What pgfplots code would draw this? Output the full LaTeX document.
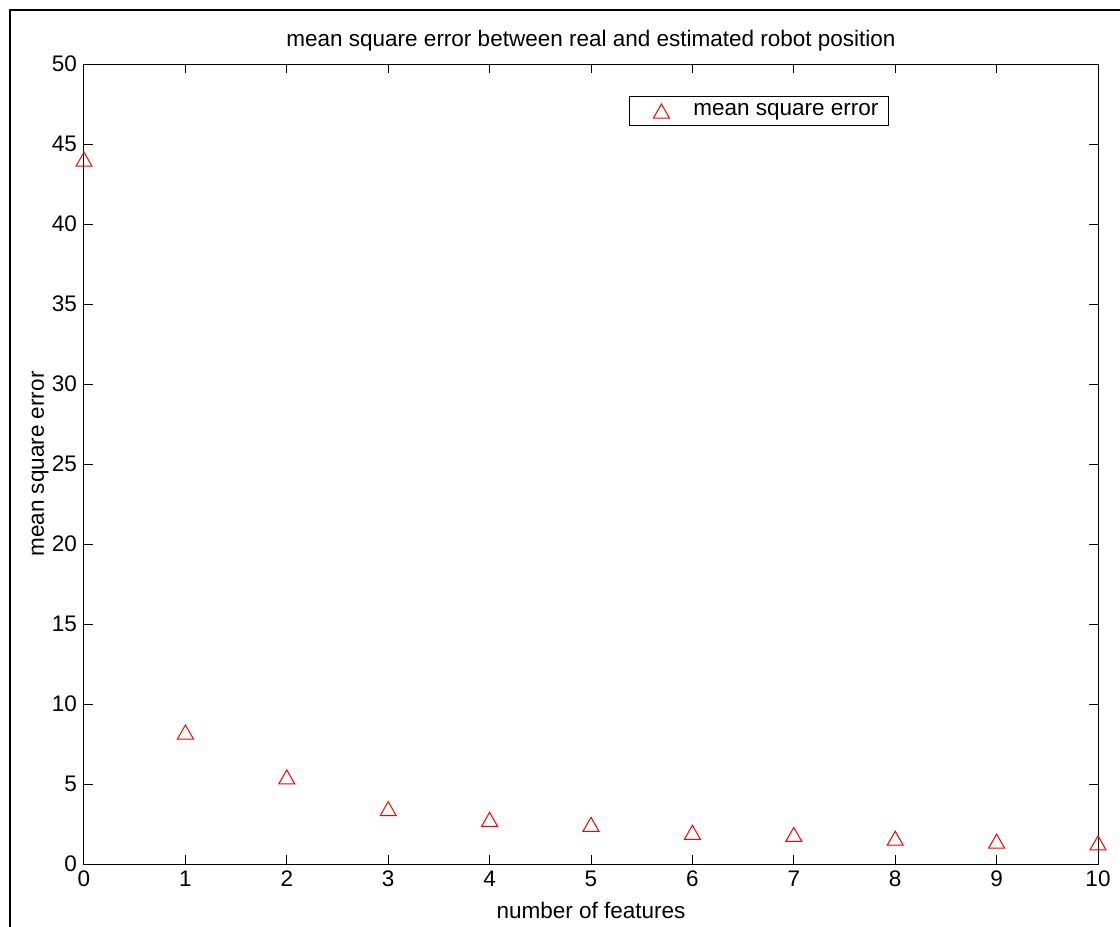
\documentclass[border=0pt]{standalone}
\usepackage{fontspec}
\setmainfont{Liberation Sans}
\usepackage{pgfplots}
\pgfplotsset{compat=1.18}

% triangle centred on its bounding box, like the MATLAB '^' marker
\pgfdeclareplotmark{mtri}{%
  \pgfpathmoveto{\pgfqpoint{0pt}{3.5pt}}%
  \pgfpathlineto{\pgfqpoint{-4pt}{-3.5pt}}%
  \pgfpathlineto{\pgfqpoint{4pt}{-3.5pt}}%
  \pgfpathclose\pgfusepathqstroke}

\newcommand{\fnt}{\fontsize{11.25}{13}\selectfont}

\begin{document}
\begin{tikzpicture}
% page: 1120x927 px, 1 px = 0.5pt
\path[use as bounding box] (0pt,0pt) rectangle (560pt,463.5pt);
\draw[line width=1pt] (5pt,0pt) -- (5pt,458.5pt) -- (560pt,458.5pt);
\begin{axis}[
    at={(42pt,31.5pt)}, anchor=south west,
    scale only axis,
    width=507pt, height=400pt,
    xmin=0, xmax=10, ymin=0, ymax=50,
    xtick={0,1,...,10}, ytick={0,5,...,50},
    tick align=inside, xtick pos=both, ytick pos=both,
    major tick length=4.5pt,
    every tick/.style={black, line width=0.5pt},
    axis line style={line width=0.5pt},
    clip=false,
    /pgf/number format/assume math mode=true,
    tick label style={font=\fnt},
    title={mean square error between real and estimated robot position},
    title style={font=\fnt, at={(axis description cs:0.5,1)}, anchor=base, yshift=3pt, inner sep=0pt},
    xlabel={number of features},
    xlabel style={font=\fnt, at={(axis description cs:0.5,0)}, anchor=base, yshift=-27pt, inner sep=0pt},
    ylabel={mean square error},
    ylabel style={font=\fnt, at={(axis description cs:-0.0395,0.5)}, anchor=base, rotate=0, inner sep=0pt},
    legend style={font=\fnt, at={(0.7939,0.96)}, anchor=north east,
        draw=black, line width=0.5pt, inner xsep=5pt, inner ysep=3.5pt,
        nodes={inner sep=0pt}},
    legend image code/.code={%
        \path[draw=none, fill=none] (0pt,0pt) -- (27pt,0pt);
        \draw[#1] plot coordinates {(11pt,0pt)};},
]
\addplot[only marks, mark=mtri, color=red, mark options={line width=0.5pt}] coordinates {
    (0,44.05) (1,8.25) (2,5.44) (3,3.46) (4,2.79) (5,2.48)
    (6,1.98) (7,1.85) (8,1.61) (9,1.43) (10,1.32)
};
\legend{mean square error}
\end{axis}
\end{tikzpicture}
\end{document}
